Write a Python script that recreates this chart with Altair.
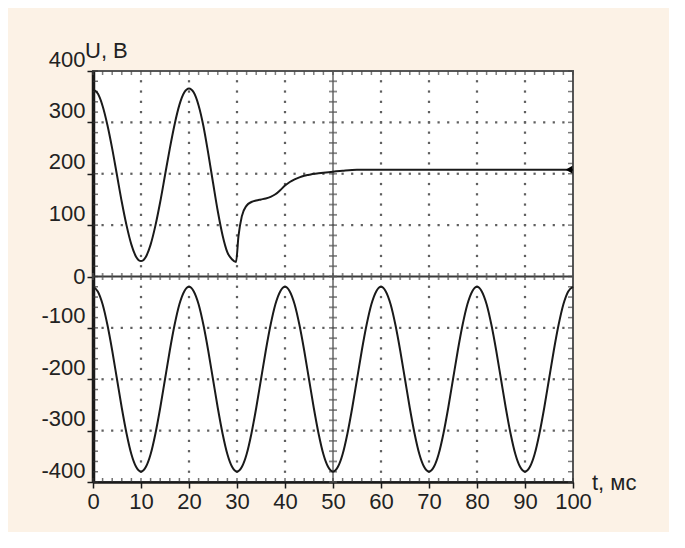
import altair as alt
import pandas as pd

# ---- data ----
t_low = list(range(0, 101))
u_low = [
    -20, -29, -54, -94, -144, -200, -256, -306, -346, -371, -380, -371, -346, -306, -256, -200, -144, -94, -54, -29,
    -20, -29, -54, -94, -144, -200, -256, -306, -346, -371, -380, -371, -346, -306, -256, -200, -144, -94, -54, -29,
    -20, -29, -54, -94, -144, -200, -256, -306, -346, -371, -380, -371, -346, -306, -256, -200, -144, -94, -54, -29,
    -20, -29, -54, -94, -144, -200, -256, -306, -346, -371, -380, -371, -346, -306, -256, -200, -144, -94, -54, -29,
    -20, -29, -54, -94, -144, -200, -256, -306, -346, -371, -380, -371, -346, -306, -256, -200, -144, -94, -54, -29,
    -20,
]

t_up = [0, 1, 2, 3, 4, 5, 6, 7, 8, 9, 10, 11, 12, 13, 14, 15, 16, 17, 18, 19,
        20, 21, 22, 23, 24, 25, 26, 27, 28, 29, 29.8, 30.3, 31, 32, 33, 34, 35, 36, 37, 38, 39,
        40, 41, 42, 43, 44, 45, 46, 47, 48, 50, 52, 55, 60, 70, 80, 90, 100]
u_up = [364, 356, 332, 295, 249, 197, 145, 99, 62, 38, 30, 38, 62, 99, 145, 197, 249, 296, 334, 358,
        366, 358, 333, 293, 240, 183, 127, 80, 47, 33, 28, 78, 117, 138, 145, 148, 150, 152, 155, 160, 168,
        177, 184, 189, 193, 196, 198, 200, 201, 202, 204, 206, 208, 208, 208, 208, 208, 208]

marker_t = [100]
marker_u = [208]

x_ticks = [0, 10, 20, 30, 40, 50, 60, 70, 80, 90, 100]
y_ticks = [-400, -300, -200, -100, 0, 100, 200, 300, 400]
x_minor = list(range(0, 101, 2))
y_minor = list(range(-400, 401, 20))
x_grid = [10, 20, 30, 40, 60, 70, 80, 90]
y_grid = [-300, -200, -100, 100, 200, 300]

FONT = "Liberation Sans"
INK = "#1a1a1a"

curves = pd.concat([
    pd.DataFrame({"t": t_up, "u": u_up, "s": "up"}),
    pd.DataFrame({"t": t_low, "u": u_low, "s": "low"}),
])

grid_dots = pd.concat([
    pd.DataFrame({"t": [x for y in y_grid for x in x_minor[1:-1]],
                  "u": [y for y in y_grid for x in x_minor[1:-1]]}),
    pd.DataFrame({"t": [x for x in x_grid for y in y_minor[1:-1]],
                  "u": [y for x in x_grid for y in y_minor[1:-1]]}),
])

xs = alt.Scale(domain=[0, 100], nice=False, zero=False)
ys = alt.Scale(domain=[-400, 400], nice=False, zero=False)

x_axis = alt.Axis(values=x_ticks, title=None, grid=False, domainColor=INK, domainWidth=2.5,
                  tickColor=INK, tickWidth=1.5, tickSize=6, labelFont=FONT, labelFontSize=22,
                  labelColor="#222", labelPadding=3, labelFlush=False, labelOverlap=False)
y_axis = alt.Axis(values=y_ticks, title=None, grid=False, domainColor=INK, domainWidth=3.5,
                  tickColor=INK, tickWidth=1.5, tickSize=6, labelFont=FONT, labelFontSize=22,
                  labelColor="#222", labelPadding=2, labelFlush=False, labelOverlap=False,
                  labelExpr="toString(datum.value)",
                  labelBaseline={"condition": {"test": "datum.value == 0", "value": "middle"},
                                 "value": "bottom"})

X = alt.X("t:Q", scale=xs, axis=x_axis)
Y = alt.Y("u:Q", scale=ys, axis=y_axis)

dots = alt.Chart(grid_dots).mark_square(size=5, color="#5f5f5f", opacity=1).encode(x=X, y=Y)

dfx = pd.DataFrame({"t": x_minor})
dfy = pd.DataFrame({"u": y_minor})
one = pd.DataFrame({"a": [0]})

zero_line = alt.Chart(one).mark_rule(color="#3a3a3a", strokeWidth=1.8).encode(y=alt.datum(0))
mid_line = alt.Chart(one).mark_rule(color="#666", strokeWidth=1.5).encode(x=alt.datum(50))

top_ticks = alt.Chart(dfx).mark_tick(orient="vertical", size=4, thickness=1.5, color="#444", yOffset=2).encode(x=X, y=alt.datum(400))
bot_ticks = alt.Chart(dfx).mark_tick(orient="vertical", size=4, thickness=1.5, color="#333", yOffset=-2).encode(x=X, y=alt.datum(-400))
zero_ticks = alt.Chart(dfx).mark_tick(orient="vertical", size=7, thickness=1.8, color="#555").encode(x=X, y=alt.datum(0))
left_ticks = alt.Chart(dfy).mark_tick(orient="horizontal", size=5, thickness=1.5, color="#333", xOffset=2.5).encode(y=Y, x=alt.datum(0))
right_ticks = alt.Chart(dfy).mark_tick(orient="horizontal", size=5, thickness=1.5, color="#444", xOffset=-2.5).encode(y=Y, x=alt.datum(100))
mid_ticks = alt.Chart(dfy).mark_tick(orient="horizontal", size=8, thickness=1.8, color="#555").encode(y=Y, x=alt.datum(50))

lines = alt.Chart(curves).mark_line(color=INK, strokeWidth=2, interpolate="monotone").encode(
    x=X, y=Y, detail="s:N")

marker = alt.Chart(pd.DataFrame({"t": marker_t, "u": marker_u})).mark_point(
    shape="triangle-left", filled=True, size=60, color="#000", opacity=1, xOffset=-4).encode(x=X, y=Y)

u_title = alt.Chart(one).mark_text(text="U, В", font=FONT, fontSize=22, color="#222",
                                   align="left", baseline="alphabetic", dx=-8, dy=-13).encode(
    x=alt.datum(0), y=alt.datum(400))
t_title = alt.Chart(one).mark_text(text="t, мс", font=FONT, fontSize=22, color="#222",
                                   align="left", baseline="alphabetic", dx=19, dy=8).encode(
    x=alt.datum(100), y=alt.datum(-400))

chart = alt.layer(
    dots, zero_line, mid_line, top_ticks, bot_ticks, zero_ticks, left_ticks, right_ticks, mid_ticks,
    lines, marker, u_title, t_title,
).properties(
    width=480, height=411,
    autosize=alt.AutoSizeParams(type="none"),
    padding={"left": 85, "top": 63, "right": 96, "bottom": 50},
    background="#fcf2e6",
).configure_view(fill="white", stroke="#555", strokeWidth=2)

chart.save("out.html", embed_options={"renderer": "svg", "actions": False})
